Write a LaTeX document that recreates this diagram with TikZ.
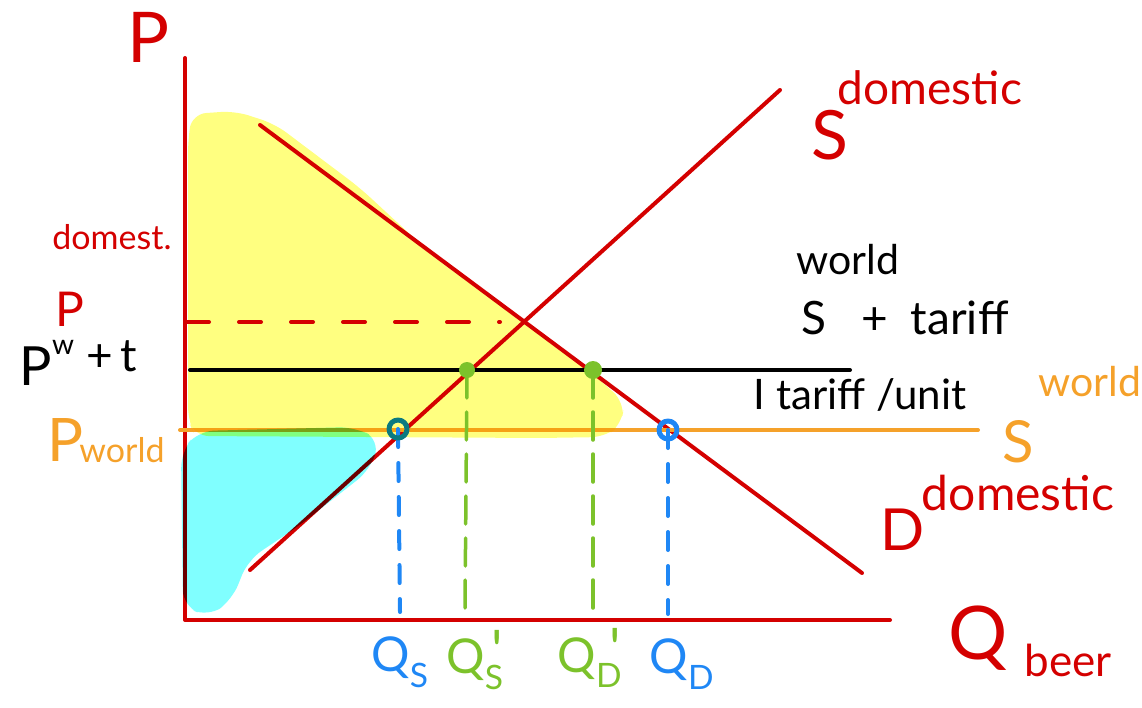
\documentclass[tikz,border=0pt]{standalone}
\usepackage{fontspec}
\setmainfont{Lato}
\definecolor{cred}{HTML}{D40000}
\definecolor{corange}{HTML}{F5A12A}
\definecolor{cblue}{HTML}{1F87F5}
\definecolor{cteal}{HTML}{0B7A80}
\definecolor{cgreen}{HTML}{7CC22B}
\definecolor{cyel}{HTML}{FFFF80}
\definecolor{ccyan}{HTML}{80FFFF}
\newcommand\fsz[1]{\fontsize{#1}{#1}\selectfont}
\newcommand\primemark{\llap{\raisebox{0.08em}{\fsz{56}\textquotesingle}\kern1pt}}
\tikzset{
  redline/.style={draw=cred, line width=4pt},
  lbl/.style={inner sep=0pt, outer sep=0pt},
  bluedash/.style={draw=cblue, line width=4pt, dash pattern=on 18pt off 16pt},
  greendash/.style={draw=cgreen, line width=3.5pt, dash pattern=on 28pt off 14pt}
}
\begin{document}
\begin{tikzpicture}[x=1pt,y=-1pt,line cap=round,line join=round]
\useasboundingbox (0,0) rectangle (1142,707);
% coordinates
\coordinate (ytop) at (185,58);
\coordinate (O) at (185,620);
\coordinate (xend) at (890,620);
\coordinate (s0) at (250,570);
\coordinate (s1) at (780,90);
\coordinate (d0) at (260,125);
\coordinate (d1) at (862,573);
\coordinate (pw0) at (180,430);
\coordinate (pw1) at (978,430);
\coordinate (pt0) at (190,370);
\coordinate (pt1) at (850,370);
\coordinate (e0) at (187,322);
\coordinate (e1) at (500,322);
\coordinate (QS) at (398,429);
\coordinate (QSp) at (467,370);
\coordinate (QDp) at (593,370);
\coordinate (QD) at (668,430);
\coordinate (QSb) at (400,612);
\coordinate (QSpb) at (465,608);
\coordinate (QDpb) at (593,618);
\coordinate (QDb) at (668,614);

% lines
\draw[redline] (ytop) -- (O) -- (xend);
\draw[redline] (s0) -- (s1);
\draw[redline] (d0) -- (d1);
\draw[draw=corange, line width=4pt] (pw0) -- (pw1);
\draw[draw=black, line width=4pt] (pt0) -- (pt1);
\draw[draw=cred, line width=4pt, dash pattern=on 22pt off 30pt] (e0) -- (e1);

% shaded areas
\begin{scope}[blend mode=multiply]
\fill[cyel, rounded corners=14pt] (188,140) -- (192,114) -- (235,111) -- (275,124) -- (360,188) -- (440,262) -- (520,318) -- (600,380) -- (624,402) -- (622,424) -- (605,437) -- (540,438) -- (195,436) -- (188,420) -- cycle;
\fill[ccyan, rounded corners=16pt] (181,452) -- (198,431) -- (355,427) -- (380,440) -- (370,470) -- (300,525) -- (248,560) -- (232,600) -- (208,617) -- (183,606) -- cycle;
\end{scope}

% drop lines
\draw[bluedash] (QS) -- (QSb);
\draw[bluedash] (QD) -- (QDb);
\draw[greendash] (QSp) -- (QSpb);
\draw[greendash] (QDp) -- (QDpb);

% intersection marks
\draw[cteal, line width=5pt] (QS) circle (9pt);
\draw[cblue, line width=5pt] (QD) circle (9pt);
\fill[cgreen] (QSp) circle (8pt);
\fill[cgreen] (QDp) circle (9pt);

% labels
\node[lbl, text=cred] (lP) at (149,37) {\fsz{70}P};
\node[lbl, text=cred] (ldom) at (112,237) {\fsz{34}domest.};
\node[lbl, text=cred] (lP2) at (70,309) {\fsz{48}P};
\node[lbl] (lPw) at (36,366) {\fsz{54}P};
\node[lbl] (lPws) at (63,347) {\fsz{28}w};
\node[lbl] (lPt) at (112,356) {\fsz{46}+\,t};
\node[lbl, text=corange] (lPwo) at (66,440) {\fsz{60}P};
\node[lbl, text=corange] (lPwo2) at (122,450) {\fsz{34}world};

\node[lbl, text=cred] (lSd) at (830,135) {\fsz{68}S};
\node[lbl, text=cred] (lSd2) at (930,88) {\fsz{46}domestic};
\node[lbl] (lw) at (848,260) {\fsz{41}world};
\node[lbl] (lSt) at (905,318) {\fsz{46}S \enspace+\enspace tariff};
\node[lbl] (ltu) at (860,395) {\fsz{42}I tariff /unit};
\node[lbl, text=corange] (lSw) at (1018,442) {\fsz{58}S};
\node[lbl, text=corange] (lSw2) at (1090,382) {\fsz{41}world};
\node[lbl, text=cred] (lD) at (903,530) {\fsz{58}D};
\node[lbl, text=cred] (lD2) at (1018,493) {\fsz{48}domestic};
\node[lbl, text=cred] (lQ) at (978,638) {\fsz{74}Q};
\node[lbl, text=cred] (lbeer) at (1068,660) {\fsz{44}beer};

\node[lbl, text=cblue] (bQS) at (400,662) {\fsz{48}Q\textsubscript{S}};
\node[lbl, text=cgreen] (bQSp) at (475,660) {\fsz{48}Q\textsubscript{S}\primemark};
\node[lbl, text=cgreen] (bQDp) at (590,658) {\fsz{48}Q\textsubscript{D}\primemark};
\node[lbl, text=cblue] (bQD) at (682,664) {\fsz{48}Q\textsubscript{D}};
\end{tikzpicture}
\end{document}
